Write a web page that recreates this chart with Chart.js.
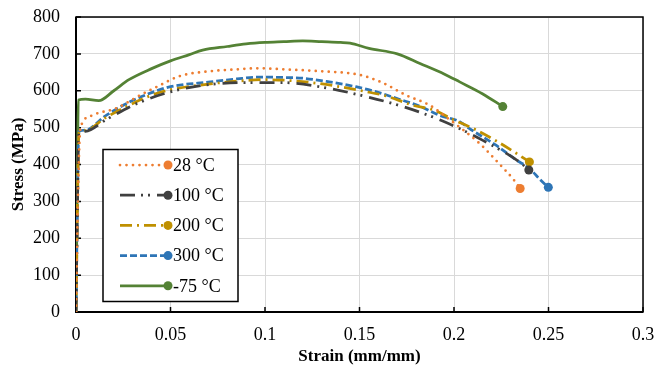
<!DOCTYPE html>
<html>
<head>
<meta charset="utf-8">
<script src="https://cdn.jsdelivr.net/npm/chart.js@4.4.1/dist/chart.umd.min.js"></script>
<style>
  html, body { margin: 0; padding: 0; background: #fff; }
</style>
</head>
<body>
<canvas id="stressStrain" width="654" height="372"></canvas>
<script>
// series: strain (mm/mm) and stress (MPa)
const seriesLabels = ['28 \u00B0C', '100 \u00B0C', '200 \u00B0C', '300 \u00B0C', '-75 \u00B0C'];

const strain28 = [0, 0.001, 0.002, 0.003, 0.009, 0.021, 0.034, 0.0445, 0.055, 0.071, 0.085, 0.096, 0.11, 0.129, 0.15, 0.162, 0.175, 0.187, 0.196, 0.2135, 0.223, 0.232, 0.235];
const stress28 = [0, 300, 480, 509, 534, 552, 588, 615, 640, 653, 658, 661, 658, 653, 643, 622, 587, 561, 528, 457, 407, 356, 335];

const strain100 = [0, 0.0008, 0.0015, 0.005, 0.016, 0.032, 0.05, 0.069, 0.09, 0.11, 0.131, 0.152, 0.173, 0.194, 0.215, 0.2346, 0.2396];
const stress100 = [0, 300, 485, 490, 522, 565, 597, 616, 622, 622, 609, 586, 557, 518, 466, 407, 385];

const strain200 = [0, 0.0008, 0.0015, 0.005, 0.015, 0.027, 0.04, 0.05, 0.07, 0.085, 0.1, 0.115, 0.128, 0.1395, 0.152, 0.164, 0.178, 0.189, 0.1995, 0.212, 0.223, 0.2346, 0.2399];
const stress200 = [0, 300, 485, 492, 525, 558, 588, 603, 618, 626, 630, 627, 620, 611, 599, 586, 561, 548, 522, 493, 462, 425, 407];

const strain300 = [0, 0.0008, 0.0014, 0.005, 0.015, 0.027, 0.04, 0.05, 0.071, 0.085, 0.097, 0.11, 0.12, 0.134, 0.148, 0.159, 0.171, 0.182, 0.192, 0.203, 0.208, 0.222, 0.233, 0.24, 0.245, 0.2499];
const stress300 = [0, 300, 489, 493, 530, 566, 595, 611, 624, 632, 637, 636, 634, 624, 611, 597, 577, 558, 534, 516, 498, 453, 412, 389, 362, 338];

const strainM75 = [0, 0.0008, 0.0012, 0.005, 0.012, 0.02, 0.028, 0.04, 0.05, 0.06, 0.067, 0.08, 0.09, 0.1, 0.11, 0.12, 0.13, 0.14, 0.145, 0.155, 0.17, 0.182, 0.195, 0.203, 0.215, 0.2258];
const stressM75 = [0, 400, 575, 577, 573, 600, 630, 660, 681, 698, 710, 720, 727, 731, 733, 735, 733, 731, 729, 715, 700, 674, 645, 624, 592, 557];

const xTicks = [0, 0.05, 0.1, 0.15, 0.2, 0.25, 0.3];
const yTicks = [0, 100, 200, 300, 400, 500, 600, 700, 800];

const colors = ['#ED7D31', '#404040', '#BF9000', '#2E75B6', '#548235'];
const dashes = [[0, 6.5], [15, 6, 2, 5, 2, 7], [12, 5, 2, 5], [7, 3], []];
const caps = ['round', 'butt', 'butt', 'butt', 'butt'];

const toPoints = (xs, ys) => xs.map((v, i) => ({x: v, y: ys[i]}));
const allSeries = [
  toPoints(strain28, stress28),
  toPoints(strain100, stress100),
  toPoints(strain200, stress200),
  toPoints(strain300, stress300),
  toPoints(strainM75, stressM75),
];

const FONT = "'Liberation Serif', 'Times New Roman', serif";

const datasets = allSeries.map((pts, i) => ({
  label: seriesLabels[i],
  data: pts,
  borderColor: colors[i],
  backgroundColor: colors[i],
  borderWidth: 2.75,
  borderDash: dashes[i],
  borderCapStyle: caps[i],
  cubicInterpolationMode: 'monotone',
  pointRadius: ctx => ctx.dataIndex === pts.length - 1 ? 4.5 : 0,
  pointBorderWidth: 0,
  fill: false,
}));

// frame + inside tick marks
const framePlugin = {
  id: 'frame',
  beforeDatasetsDraw(chart) {
    const {ctx, chartArea: a, scales} = chart;
    ctx.save();
    ctx.strokeStyle = '#000';
    ctx.lineWidth = 1.5;
    ctx.strokeRect(a.left, a.top, a.right - a.left, a.bottom - a.top);
    ctx.lineWidth = 2;
    ctx.beginPath();
    ctx.moveTo(a.left, a.top);
    ctx.lineTo(a.left, a.bottom);
    ctx.lineTo(a.right, a.bottom);
    ctx.stroke();
    ctx.lineWidth = 1.5;
    ctx.beginPath();
    xTicks.forEach(v => {
      const px = scales.x.getPixelForValue(v);
      ctx.moveTo(px, a.bottom);
      ctx.lineTo(px, a.bottom - 5);
    });
    yTicks.forEach(v => {
      const py = scales.y.getPixelForValue(v);
      ctx.moveTo(a.left, py);
      ctx.lineTo(a.left + 5, py);
    });
    ctx.stroke();
    ctx.restore();
  }
};

// legend box inside the plot
const legendPlugin = {
  id: 'boxLegend',
  afterDatasetsDraw(chart) {
    const ctx = chart.ctx;
    const box = {left: 103, top: 149.5, right: 238, bottom: 301.5};
    ctx.save();
    ctx.fillStyle = '#fff';
    ctx.fillRect(box.left, box.top, box.right - box.left, box.bottom - box.top);
    ctx.strokeStyle = '#000';
    ctx.lineWidth = 1.5;
    ctx.strokeRect(box.left, box.top, box.right - box.left, box.bottom - box.top);
    chart.data.datasets.forEach((ds, i) => {
      const yy = 165 + i * 30.2;
      ctx.strokeStyle = ds.borderColor;
      ctx.lineWidth = ds.borderWidth;
      ctx.lineCap = ds.borderCapStyle;
      ctx.setLineDash(ds.borderDash);
      ctx.beginPath();
      ctx.moveTo(120, yy);
      ctx.lineTo(166, yy);
      ctx.stroke();
      ctx.setLineDash([]);
      ctx.fillStyle = ds.borderColor;
      ctx.beginPath();
      ctx.arc(168, yy, 4.5, 0, Math.PI * 2);
      ctx.fill();
      ctx.fillStyle = '#000';
      ctx.font = '18px ' + FONT;
      ctx.textBaseline = 'middle';
      ctx.textAlign = 'left';
      ctx.fillText(ds.label, 173, yy + 1);
    });
    ctx.restore();
  }
};

const fmt = v => String(Number(v.toFixed(2)));

new Chart(document.getElementById('stressStrain').getContext('2d'), {
  type: 'line',
  data: {datasets},
  options: {
    responsive: false,
    animation: false,
    layout: {padding: {left: 0, top: 17, right: 11, bottom: 0}},
    plugins: {
      legend: {display: false},
      tooltip: {enabled: false},
    },
    scales: {
      x: {
        type: 'linear',
        min: 0,
        max: 0.3,
        afterFit: s => { s.height = 60; s.paddingLeft = 0; s.paddingRight = 0; },
        afterBuildTicks: s => { s.ticks = xTicks.map(v => ({value: v})); },
        grid: {color: '#d9d9d9', lineWidth: 1, drawTicks: false},
        border: {display: false},
        ticks: {
          padding: 12,
          color: '#000',
          font: {family: FONT, size: 18},
          maxRotation: 0,
          callback: v => fmt(v),
        },
        title: {
          display: true,
          text: 'Strain (mm/mm)',
          color: '#000',
          font: {family: FONT, size: 17, weight: 'bold'},
          padding: {top: 5, bottom: 5},
        },
      },
      y: {
        min: 0,
        max: 800,
        afterFit: s => { s.width = 76; s.paddingTop = 0; s.paddingBottom = 0; },
        afterBuildTicks: s => { s.ticks = yTicks.map(v => ({value: v})); },
        grid: {color: '#d9d9d9', lineWidth: 1, drawTicks: false},
        border: {display: false},
        ticks: {
          padding: 16,
          color: '#000',
          font: {family: FONT, size: 18},
          callback: v => fmt(v),
        },
        title: {
          display: true,
          text: 'Stress (MPa)',
          color: '#000',
          font: {family: FONT, size: 17, weight: 'bold'},
          padding: {top: 8, bottom: 8},
        },
      },
    },
  },
  plugins: [framePlugin, legendPlugin],
});
</script>
</body>
</html>
